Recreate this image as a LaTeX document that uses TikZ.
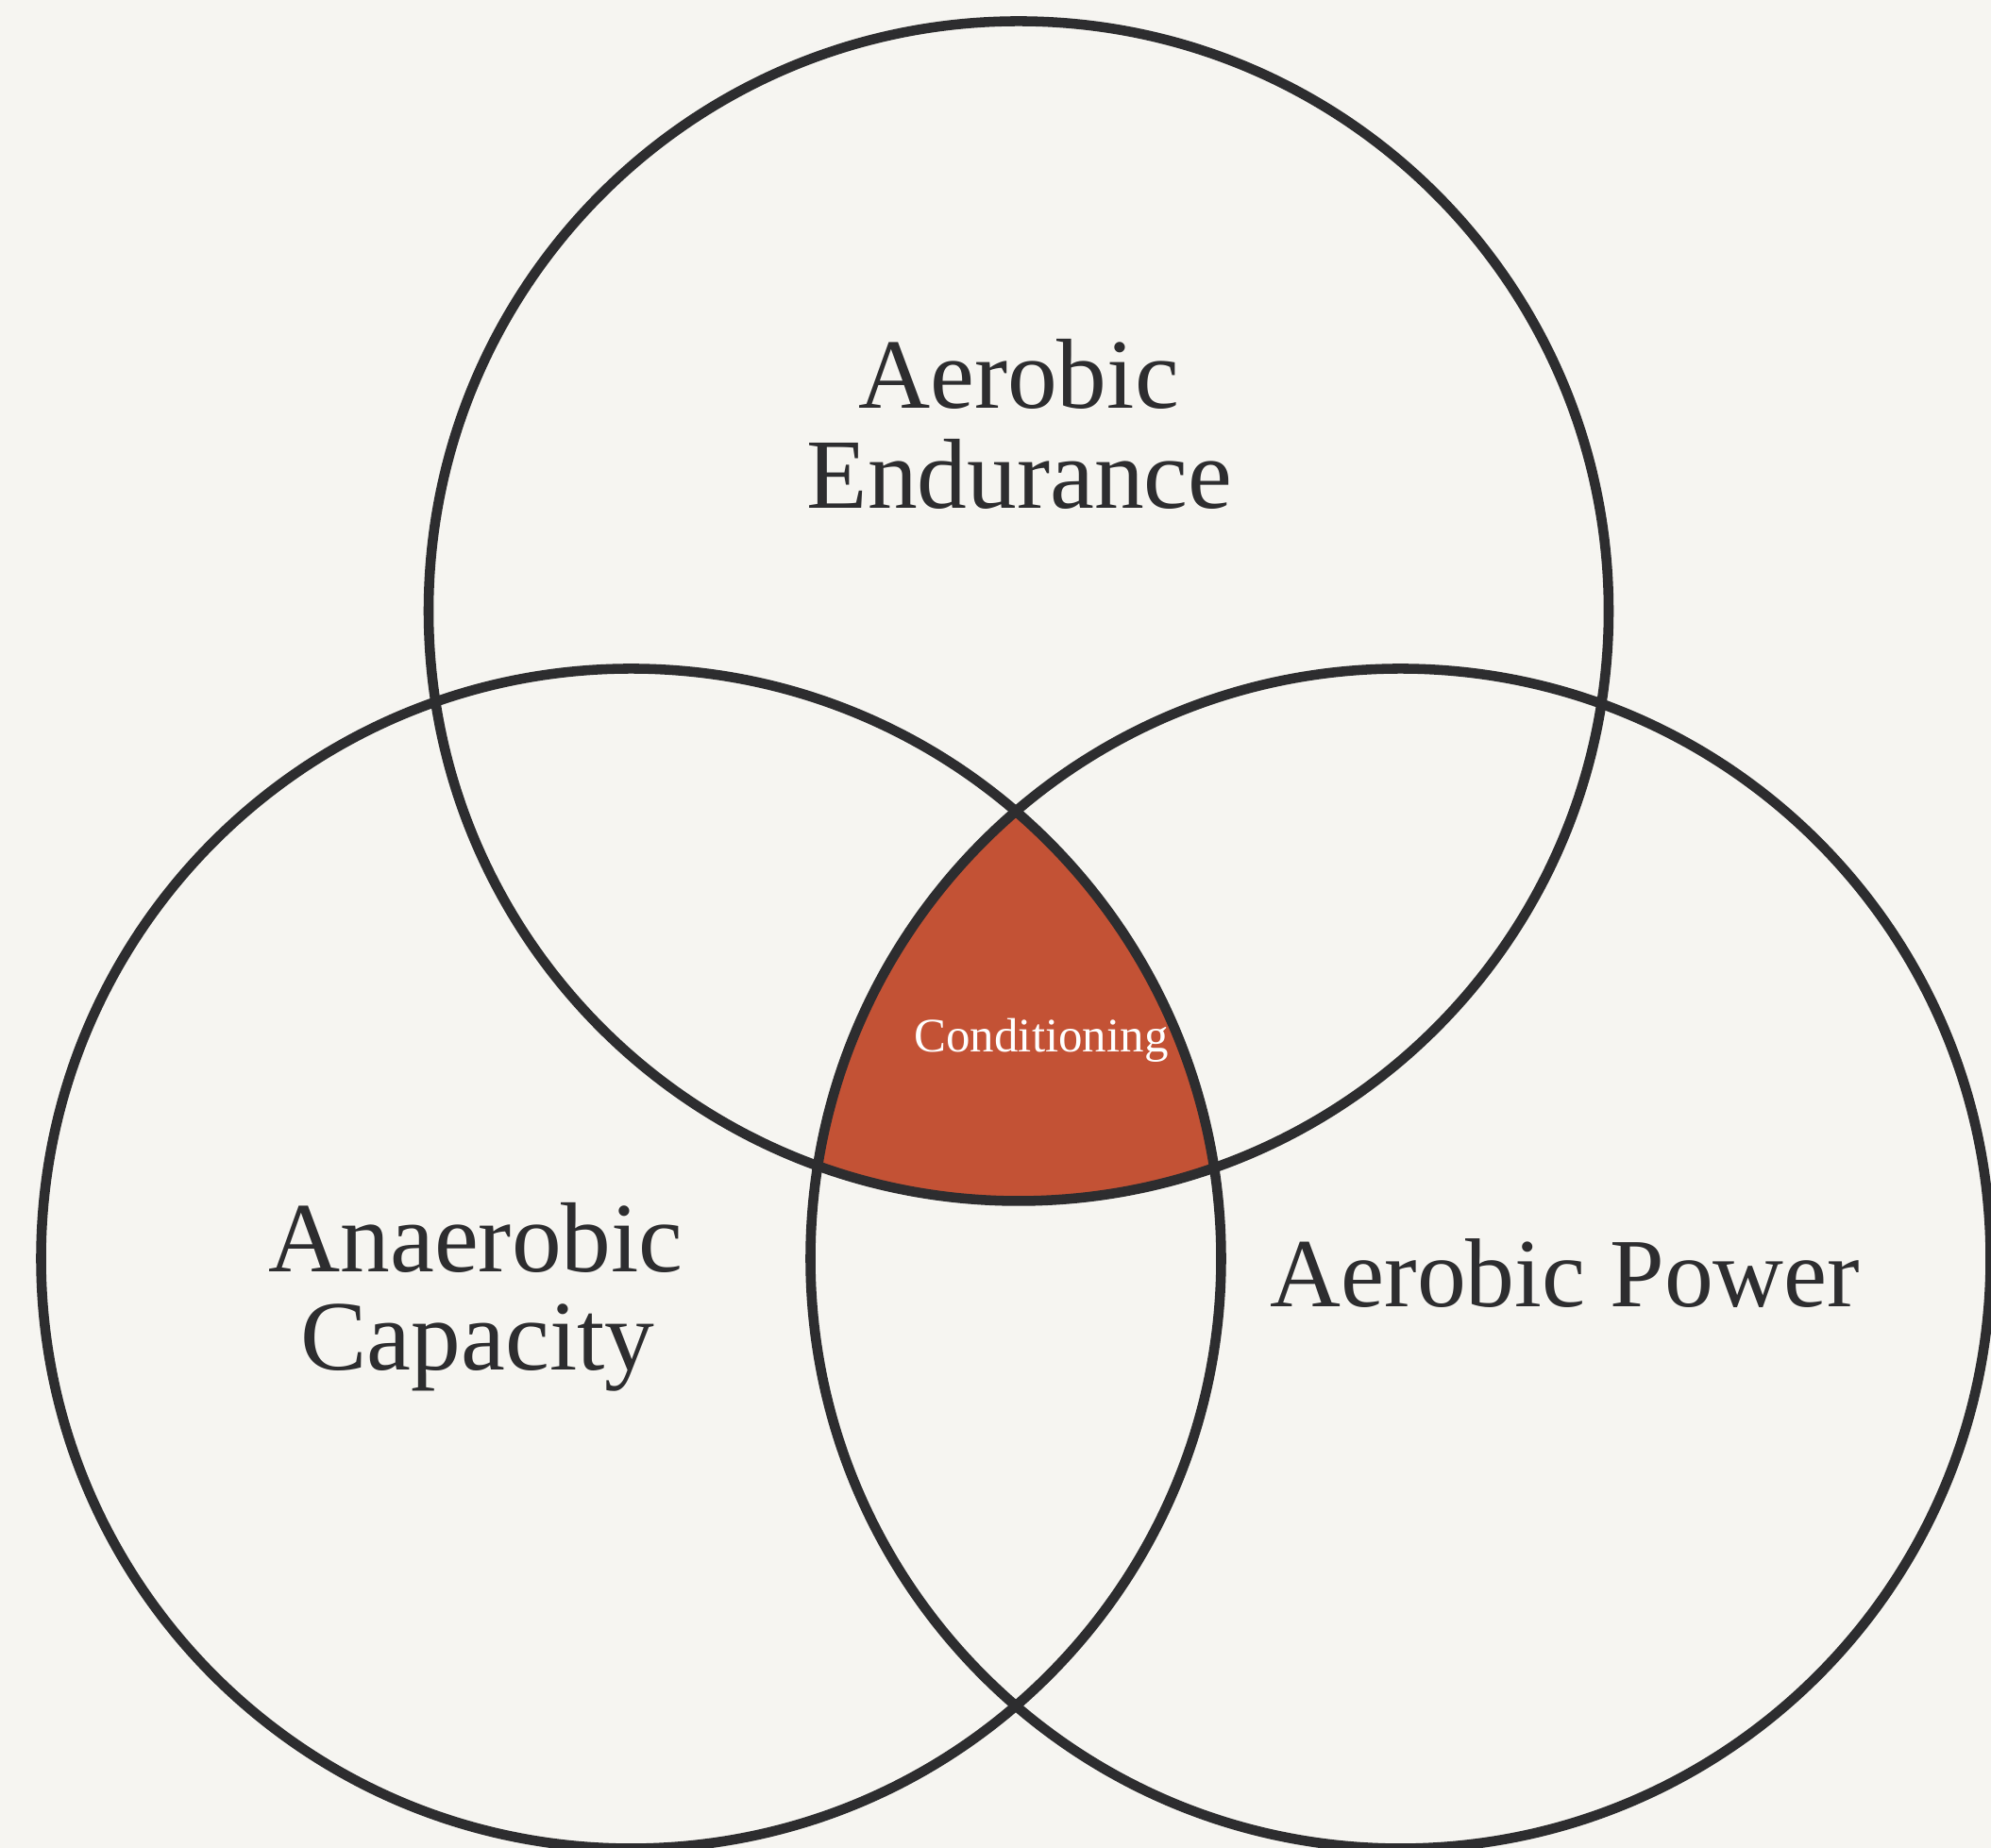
\documentclass[tikz,border=0pt]{standalone}
\usepackage{fontspec}
\setmainfont{Liberation Serif}
\definecolor{bgc}{HTML}{F6F5F1}
\definecolor{ink}{HTML}{2D2D2F}
\definecolor{rust}{HTML}{C35235}
\tikzset{
  ring/.style={draw=ink, line width=3pt},
  biglabel/.style={anchor=base, text=ink, inner sep=0pt, font=\fontsize{30}{36}\selectfont},
  smalllabel/.style={anchor=base, text=white, inner sep=0pt, font=\fontsize{14.5}{17}\selectfont}
}
\begin{document}
\begin{tikzpicture}
\fill[bgc] (0,0) rectangle (21.09,19.58);
\useasboundingbox (0,0) rectangle (21.09,19.58);
\coordinate (ctop) at (10.79,13.105);
\coordinate (cleft) at (6.685,6.245);
\coordinate (cright) at (14.835,6.245);
\begin{scope}
  \clip (ctop) circle (6.25);
  \clip (cleft) circle (6.25);
  \fill[rust] (cright) circle (6.25);
\end{scope}
\draw[ring] (ctop) circle (6.25);
\draw[ring] (cleft) circle (6.25);
\draw[ring] (cright) circle (6.25);
\node[biglabel] (ae1) at (10.79,15.25) {Aerobic};
\node[biglabel] (ae2) at (10.80,14.19) {Endurance};
\node[biglabel] (an1) at (5.04,6.10) {Anaerobic};
\node[biglabel] (an2) at (5.06,5.06) {Capacity};
\node[biglabel, font=\fontsize{29.5}{36}\selectfont] (ap) at (16.58,5.73) {Aerobic Power};
\node[smalllabel] (cond) at (11.03,8.43) {Conditioning};
\end{tikzpicture}
\end{document}
